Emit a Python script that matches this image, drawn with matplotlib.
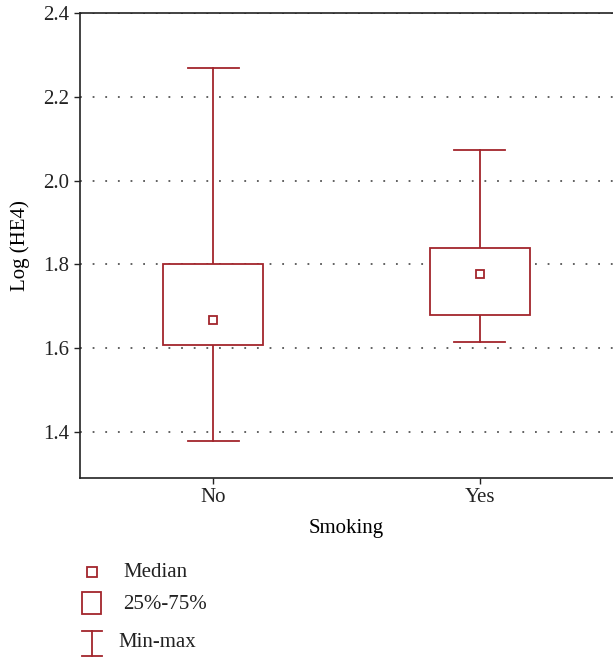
import numpy as np
import matplotlib.pyplot as plt
from matplotlib.patches import Rectangle

plt.rcParams.update({
    'font.family': ['Liberation Serif', 'DejaVu Serif'],
    'font.size': 15,
})

# Data
categories = ["No", "Yes"]
minimum = [1.379, 1.614]
q25 = [1.607, 1.679]
median = [1.667, 1.776]
q75 = [1.800, 1.840]
maximum = [2.269, 2.074]

RED = "#a3252c"
BOX_W = 0.375
CAP_W = 0.19

fig = plt.figure(figsize=(6.13, 6.59), dpi=100, facecolor="white")
ax = fig.add_axes([80 / 613, 1 - 478 / 659, 533 / 613, 465 / 659])

pos = np.arange(len(categories))
for x, lo, b0, md, b1, hi in zip(pos, minimum, q25, median, q75, maximum):
    # whiskers
    ax.plot([x, x], [b1, hi], color=RED, lw=1.3, zorder=3)
    ax.plot([x, x], [lo, b0], color=RED, lw=1.3, zorder=3)
    ax.plot([x - CAP_W / 2, x + CAP_W / 2], [hi, hi], color=RED, lw=1.3, zorder=3)
    ax.plot([x - CAP_W / 2, x + CAP_W / 2], [lo, lo], color=RED, lw=1.3, zorder=3)
    # box
    ax.add_patch(Rectangle((x - BOX_W / 2, b0), BOX_W, b1 - b0,
                           facecolor="white", edgecolor=RED, lw=1.3, zorder=3))
    # median
    ax.plot(x, md, marker="s", ms=6, mfc="white", mec=RED, mew=1.3, zorder=4)

ax.set_xlim(-0.5, 1.5)
ax.set_ylim(1.29, 2.4)
ax.set_yticks([1.4, 1.6, 1.8, 2.0, 2.2, 2.4])
ax.set_yticklabels(["1.4", "1.6", "1.8", "2.0", "2.2", "2.4"])
ax.set_xticks(pos)
ax.set_xticklabels(categories)
ax.tick_params(axis="both", direction="out", length=4, width=1, labelsize=15, colors="#222")
ax.grid(axis="y", ls=(0, (1, 6)), color="#555", lw=1.3)
ax.set_axisbelow(True)
ax.spines["right"].set_visible(False)
for s in ["left", "top", "bottom"]:
    ax.spines[s].set_linewidth(1.2)
    ax.spines[s].set_color("#222")
ax.set_ylabel("Log (HE4)", fontsize=15, labelpad=10)
ax.set_xlabel("Smoking", fontsize=15, labelpad=8)

# Legend drawn in its own axes (pixel-like coordinates)
lax = fig.add_axes([0, 0, 1, 1 - 550 / 659], facecolor="none")
lax.set_xlim(0, 613)
lax.set_ylim(659, 550)
lax.axis("off")
lax.plot(92, 572, marker="s", ms=7, mfc="white", mec=RED, mew=1.3)
lax.add_patch(Rectangle((82, 592), 19, 22, facecolor="white", edgecolor=RED, lw=1.3))
lax.plot([92, 92], [631, 656], color=RED, lw=1.3)
lax.plot([82, 102], [631, 631], color=RED, lw=1.3)
lax.plot([82, 102], [656, 656], color=RED, lw=1.3)
lax.text(123, 573, "Median", fontsize=15, va="center", color="#222")
lax.text(123, 605, "25%-75%", fontsize=15, va="center", color="#222")
lax.text(118, 643, "Min-max", fontsize=15, va="center", color="#222")

plt.savefig("out.png", dpi=100, facecolor="white")
